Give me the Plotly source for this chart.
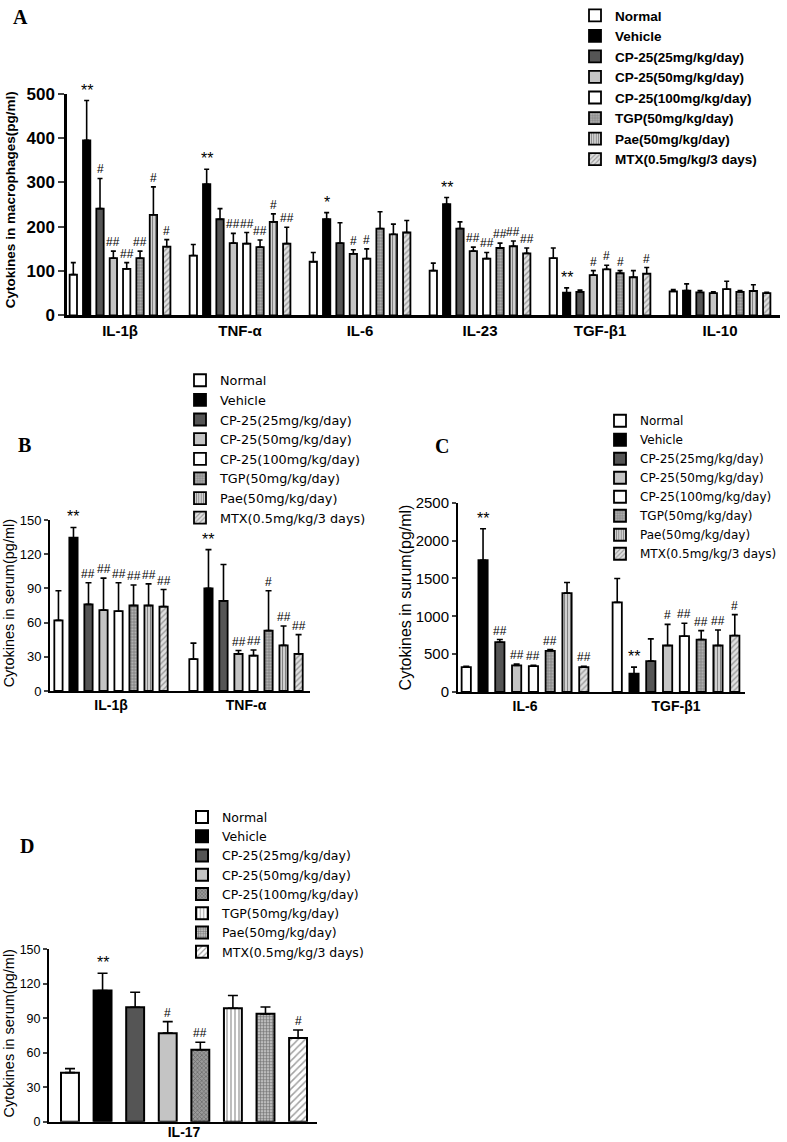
import plotly.graph_objects as go

W, H = 787, 1142

groups = ["Normal", "Vehicle", "CP-25(25mg/kg/day)", "CP-25(50mg/kg/day)",
          "CP-25(100mg/kg/day)", "TGP(50mg/kg/day)", "Pae(50mg/kg/day)",
          "MTX(0.5mg/kg/3 days)"]

# ---------------- Panel A (macrophages) ----------------
a_cats = ["IL-1β", "TNF-α", "IL-6", "IL-23", "TGF-β1", "IL-10"]
a_values = [
    [92, 135, 121, 101, 129, 54],    # Normal
    [395, 296, 217, 251, 51, 56],    # Vehicle
    [241, 217, 163, 196, 53, 52],    # CP-25 25
    [129, 163, 139, 145, 91, 50],    # CP-25 50
    [105, 162, 128, 128, 104, 59],   # CP-25 100
    [129, 154, 196, 152, 95, 53],    # TGP
    [227, 211, 183, 156, 86, 55],    # Pae
    [155, 162, 187, 140, 94, 50],    # MTX
]
a_errors = [
    [27, 25, 21, 17, 23, 4],
    [90, 34, 15, 15, 11, 15],
    [68, 24, 46, 15, 4, 4],
    [16, 22, 9, 9, 10, 3],
    [14, 25, 22, 14, 9, 18],
    [16, 16, 38, 11, 6, 3],
    [63, 18, 23, 12, 15, 14],
    [16, 37, 27, 12, 14, 2],
]
a_marks = [
    ["", "", "", "", "", ""],
    ["**", "**", "*", "**", "**", ""],
    ["#", "", "", "", "", ""],
    ["##", "##", "#", "##", "#", ""],
    ["##", "##", "#", "##", "#", ""],
    ["##", "##", "", "##", "#", ""],
    ["#", "#", "", "##", "", ""],
    ["#", "##", "", "##", "#", ""],
]

# ---------------- Panel B (serum) ----------------
b_cats = ["IL-1β", "TNF-α"]
b_values = [
    [62, 28], [134.5, 90], [76, 79], [71, 32.5],
    [70, 31], [75, 53], [75, 40], [74, 32.5],
]
b_errors = [
    [26, 14], [9, 34], [19, 32], [28, 3],
    [25, 5], [18, 35], [19, 17], [15, 17],
]
b_marks = [
    ["", ""], ["**", "**"], ["##", ""], ["##", "##"],
    ["##", "##"], ["##", "#"], ["##", "##"], ["##", "##"],
]

# ---------------- Panel C (serum) ----------------
c_cats = ["IL-6", "TGF-β1"]
c_values = [
    [329, 1184], [1741, 241], [658, 408], [351, 614],
    [342, 737], [544, 693], [1307, 614], [329, 746],
]
c_errors = [
    [10, 316], [417, 88], [35, 294], [17, 280],
    [10, 171], [17, 118], [140, 206], [10, 276],
]
c_marks = [
    ["", ""], ["**", "**"], ["##", ""], ["##", "#"],
    ["##", "##"], ["##", "##"], ["", "##"], ["##", "#"],
]

# ---------------- Panel D (serum IL-17) ----------------
d_cats = ["IL-17"]
d_values = [42.7, 114, 99.5, 77, 62.6, 98.7, 93.8, 72.7]
d_errors = [3.5, 15, 13, 10, 6.5, 11, 6, 7]
d_marks = ["", "**", "", "#", "##", "", "", "#"]

# ---------------- styles ----------------
style_abc = [
    dict(color="white", pattern=dict(shape="")),
    dict(color="black", pattern=dict(shape="")),
    dict(color="#555555", pattern=dict(shape="")),
    dict(color="#c4c4c4", pattern=dict(shape="")),
    dict(color="white", pattern=dict(shape="")),
    dict(color="#8c8c8c", pattern=dict(shape=".", fgcolor="#d8d8d8", size=3, solidity=0.4)),
    dict(color="#d0d0d0", pattern=dict(shape="|", fgcolor="#333333", size=3, solidity=0.35)),
    dict(color="#e0e0e0", pattern=dict(shape="/", fgcolor="#555555", size=4, solidity=0.35)),
]
style_d = [
    dict(color="white", pattern=dict(shape="")),
    dict(color="black", pattern=dict(shape="")),
    dict(color="#555555", pattern=dict(shape="")),
    dict(color="#c4c4c4", pattern=dict(shape="")),
    dict(color="#9a9a9a", pattern=dict(shape="x", fgcolor="#333333", size=3, solidity=0.4)),
    dict(color="white", pattern=dict(shape="|", fgcolor="#222222", size=4, solidity=0.3)),
    dict(color="#bbbbbb", pattern=dict(shape="+", fgcolor="#222222", size=3, solidity=0.35)),
    dict(color="white", pattern=dict(shape="/", fgcolor="#444444", size=5, solidity=0.3)),
]

SANS = "Liberation Sans, Arial, sans-serif"
WIDE = "DejaVu Sans, Liberation Sans, sans-serif"
SERIF = "Liberation Serif, Times New Roman, serif"

def px_x(p):
    return p / W

def px_y(p):
    return 1 - p / H

fig = go.Figure()

BARGAP = 0.11
GROUPGAP = 0.45
N = len(groups)

def bar_offset(i):
    gw = 1 - BARGAP
    return -gw / 2 + (i + 0.5) * gw / N

panels = [
    (a_cats, a_values, a_errors, a_marks, style_abc, "", "legend", 1.8, 2.5),
    (b_cats, b_values, b_errors, b_marks, style_abc, "2", "legend2", 1.8, 3),
    (c_cats, c_values, c_errors, c_marks, style_abc, "3", "legend3", 1.8, 3),
    (d_cats, [[v] for v in d_values], [[e] for e in d_errors],
     [[m] for m in d_marks], style_d, "4", "legend4", 2, 5),
]

annotations = []
for cats, vals, errs, marks, styles, sfx, leg, lw, capw in panels:
    for i, g in enumerate(groups):
        st = styles[i]
        fig.add_trace(go.Bar(
            x=cats, y=vals[i], name=g,
            xaxis="x" + sfx, yaxis="y" + sfx, legend=leg,
            marker=dict(color=st["color"], pattern=st["pattern"],
                        line=dict(color="black", width=lw)),
            error_y=dict(type="data", array=errs[i], arrayminus=[0] * len(cats),
                         symmetric=False, color="black", thickness=1.6, width=capw),
        ))
        for c, cat in enumerate(cats):
            m = marks[i][c]
            if m:
                annotations.append(dict(
                    x=c + bar_offset(i), y=vals[i][c] + errs[i][c],
                    xref="x" + sfx, yref="y" + sfx, text=m, showarrow=False,
                    yanchor="bottom", yshift=0,
                    font=dict(family=SANS, size=16 if "*" in m else 12, color="black"),
                ))

# panel letters
for txt, cx, cy in [("A", 20, 12), ("B", 24, 442), ("C", 442, 443), ("D", 27, 845)]:
    annotations.append(dict(x=px_x(cx), y=px_y(cy), xref="paper", yref="paper",
                            text="<b>%s</b>" % txt, showarrow=False,
                            xanchor="center", yanchor="middle",
                            font=dict(family=SERIF, size=20, color="black")))

# y-axis titles (rotated text)
for txt, cx, cy, size, weight in [
        ("Cytokines in macrophages(pg/ml)", 10, 196, 13.5, "bold"),
        ("Cytokines in serum(pg/ml)", 9, 601, 14.5, "normal"),
        ("Cytokines in surum(pg/ml)", 405, 595, 16, "normal"),
        ("Cytokines in serum(pg/ml)", 9, 1033, 14.5, "normal")]:
    annotations.append(dict(x=px_x(cx), y=px_y(cy), xref="paper", yref="paper",
                            text=txt, showarrow=False, textangle=-90,
                            xanchor="center", yanchor="middle",
                            font=dict(family=SANS, size=size, weight=weight, color="black")))

axis_common = dict(showgrid=False, zeroline=False, showline=True, linecolor="black",
                   mirror=False, automargin=False)

layout = dict(
    width=W, height=H, margin=dict(l=0, r=0, t=0, b=0),
    paper_bgcolor="white", plot_bgcolor="white",
    barmode="group", bargap=BARGAP, bargroupgap=GROUPGAP,
    font=dict(family=SANS, color="black"),
    annotations=annotations,
)

# Panel A axes
layout["xaxis"] = dict(axis_common, domain=[px_x(67), px_x(780)], anchor="y",
                       range=[-0.442, 5.5], linewidth=2.5, ticks="",
                       tickfont=dict(size=15, weight="bold"))
layout["yaxis"] = dict(axis_common, domain=[px_y(311.7), px_y(89.3)], anchor="x",
                       range=[0, 500], tickvals=[0, 100, 200, 300, 400, 500],
                       linewidth=2.5, ticks="outside", ticklen=6, tickwidth=2,
                       tickfont=dict(size=17, weight="bold"))
# Panel B axes
layout["xaxis2"] = dict(axis_common, domain=[px_x(50), px_x(310)], anchor="y2",
                        range=[-0.452, 1.474], linewidth=2, ticks="",
                        tickfont=dict(size=14, weight="bold"))
layout["yaxis2"] = dict(axis_common, domain=[px_y(689), px_y(517.3)], anchor="x2",
                        range=[0, 150], tickvals=[0, 30, 60, 90, 120, 150],
                        linewidth=2, ticks="outside", ticklen=4, tickwidth=1.5,
                        tickfont=dict(size=13))
# Panel C axes
layout["xaxis3"] = dict(axis_common, domain=[px_x(458), px_x(745)], anchor="y3",
                        range=[-0.444, 1.457], linewidth=2, ticks="",
                        tickfont=dict(size=14, weight="bold"))
layout["yaxis3"] = dict(axis_common, domain=[px_y(690), px_y(500)], anchor="x3",
                        range=[0, 2500], tickvals=[0, 500, 1000, 1500, 2000, 2500],
                        linewidth=2, ticks="outside", ticklen=4, tickwidth=1.5,
                        tickfont=dict(size=15))
# Panel D axes
layout["xaxis4"] = dict(axis_common, domain=[px_x(49), px_x(317)], anchor="y4",
                        range=[-0.461, 0.454], linewidth=2, ticks="",
                        ticklabelstandoff=-4,
                        tickfont=dict(size=14, weight="bold"))
layout["yaxis4"] = dict(axis_common, domain=[px_y(1121.7), px_y(948.3)], anchor="x4",
                        range=[0, 150], tickvals=[0, 30, 60, 90, 120, 150],
                        linewidth=2, ticks="outside", ticklen=4, tickwidth=1.5,
                        tickfont=dict(size=12.5))

# legends
layout["legend"] = dict(x=px_x(575), y=px_y(-5), xanchor="left", yanchor="top",
                        font=dict(family=SANS, size=13.5, weight="bold"),
                        bgcolor="rgba(0,0,0,0)")
layout["legend2"] = dict(x=px_x(180), y=px_y(362), xanchor="left", yanchor="top",
                         font=dict(family=WIDE, size=12.8), bgcolor="rgba(0,0,0,0)")
layout["legend3"] = dict(x=px_x(600), y=px_y(403), xanchor="left", yanchor="top",
                         font=dict(family=WIDE, size=12), bgcolor="rgba(0,0,0,0)")
layout["legend4"] = dict(x=px_x(182), y=px_y(801), xanchor="left", yanchor="top",
                         font=dict(family=WIDE, size=12.5), bgcolor="rgba(0,0,0,0)")

fig.update_layout(**layout)
fig.write_html("out.html", config={"displayModeBar": False},
               post_script="document.body.style.margin='0';")
